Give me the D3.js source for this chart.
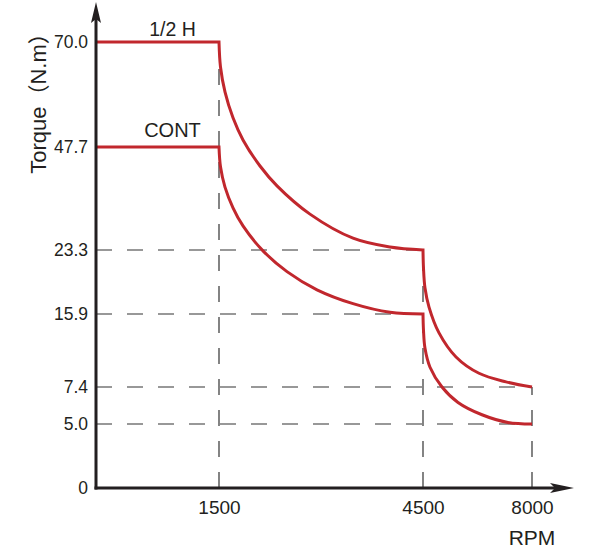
<!DOCTYPE html>
<html>
<head>
<meta charset="utf-8">
<script src="https://cdn.jsdelivr.net/npm/d3@7"></script>
<style>
  html, body { margin: 0; padding: 0; background: #ffffff; }
  svg { display: block; font-family: "Liberation Sans", Arial, "Noto Sans CJK SC", sans-serif; }
</style>
</head>
<body>
<svg id="chart" width="600" height="550"></svg>
<script>
// ---------- data ----------
const rpmTicks = [1500, 4500, 8000];
const rpmTickLabels = ["1500", "4500", "8000"];
const torqueTicks = [0, 5.0, 7.4, 15.9, 23.3, 47.7, 70.0];
const torqueTickLabels = ["0", "5.0", "7.4", "15.9", "23.3", "47.7", "70.0"];

const seriesNames = ["1/2 H", "CONT"];

// 1/2 H (intermittent) curve
const halfRpm    = [0,    1500, 1522, 1588, 1706, 1853, 2103, 2353, 2838, 3471, 4015, 4500, 4516, 4564, 4693, 5014, 5560, 6298, 7165, 8000];
const halfTorque = [70.0, 70.0, 64.7, 59.4, 53.9, 49.2, 43.2, 38.5, 31.8, 26.1, 24.0, 23.3, 21.2, 18.9, 16.7, 13.7, 10.9, 9.0,  8.0,  7.4];

// CONT (continuous) curve
const contRpm    = [0,    1500, 1522, 1588, 1706, 1853, 2147, 2500, 2941, 3471, 4015, 4500, 4516, 4564, 4725, 5110, 5624, 6394, 7229, 8000];
const contTorque = [47.7, 47.7, 43.0, 38.2, 33.3, 29.0, 23.2, 20.8, 18.7, 17.1, 16.1, 15.9, 14.0, 11.9, 9.7,  7.4,  6.4,  5.6,  5.1,  5.0];

// dashed guides
const guideTorque = [23.3, 15.9, 7.4, 5.0];
const guideTorqueRpm = [4500, 4500, 8000, 8000];
const guideRpm = [1500, 4500, 8000];
const guideRpmTorque = [70.0, 23.3, 7.4];

// ---------- layout (schematic, non-uniform axes as in the original) ----------
const xStops = [96, 219, 423, 532];                 // pixel stops for rpm [0,1500,4500,8000]
const yStops = [488, 424, 387, 314, 250, 147, 42];  // pixel stops for torqueTicks
const red = "#c1272d";
const ink = "#231f20";
const fontLatin = "Liberation Sans, Arial, sans-serif";

const x = d3.scaleLinear().domain([0].concat(rpmTicks)).range(xStops);
const y = d3.scaleLinear().domain(torqueTicks).range(yStops);

const svg = d3.select("#chart");

// dashed guides
const guides = svg.append("g")
  .attr("stroke", "#333")
  .attr("stroke-width", 1.2)
  .attr("stroke-dasharray", "16,15")
  .attr("fill", "none");

guideTorque.forEach((t, i) => {
  guides.append("line")
    .attr("x1", x(0)).attr("x2", x(guideTorqueRpm[i]))
    .attr("y1", y(t)).attr("y2", y(t));
});
guideRpm.forEach((r, i) => {
  guides.append("line")
    .attr("x1", x(r)).attr("x2", x(r))
    .attr("y1", y(0)).attr("y2", y(guideRpmTorque[i]));
});

// curves: flat part (linear) + smooth segments between break speeds, joined as one path
const linearLine = d3.line().x(d => x(d[0])).y(d => y(d[1]));
const smoothLine = d3.line().x(d => x(d[0])).y(d => y(d[1])).curve(d3.curveCatmullRom.alpha(0.5));

function seriesPath(rpm, torque) {
  const pts = rpm.map((r, i) => [r, torque[i]]);
  const breaks = [0].concat(rpmTicks.slice(0, 2).map(b => rpm.indexOf(b)), [pts.length - 1]);
  let d = "";
  for (let s = 0; s < breaks.length - 1; s++) {
    const seg = pts.slice(breaks[s], breaks[s + 1] + 1);
    const gen = s === 0 ? linearLine : smoothLine;
    let p = gen(seg);
    if (s > 0) p = "L" + p.slice(1);
    d += p;
  }
  return d;
}

[[halfRpm, halfTorque], [contRpm, contTorque]].forEach(([r, t]) => {
  svg.append("path")
    .attr("d", seriesPath(r, t))
    .attr("fill", "none")
    .attr("stroke", red)
    .attr("stroke-width", 3)
    .attr("stroke-linejoin", "miter");
});

// axes (lines + arrowheads)
const axisG = svg.append("g");
axisG.append("line")
  .attr("x1", x(0)).attr("x2", x(0))
  .attr("y1", y(0) + 1.5).attr("y2", 16)
  .attr("stroke", ink).attr("stroke-width", 3);
axisG.append("line")
  .attr("x1", x(0) - 1.5).attr("x2", 556)
  .attr("y1", y(0)).attr("y2", y(0))
  .attr("stroke", ink).attr("stroke-width", 3);
axisG.append("path")
  .attr("d", `M${x(0)},2 L${x(0) + 5},23 L${x(0)},19 L${x(0) - 5},23 Z`)
  .attr("fill", ink);
axisG.append("path")
  .attr("d", `M574,${y(0)} L550,${y(0) - 5} L555,${y(0)} L550,${y(0) + 5} Z`)
  .attr("fill", ink);

// tick labels via d3 axes
const yAxis = d3.axisLeft(y)
  .tickValues(torqueTicks)
  .tickFormat((d, i) => torqueTickLabels[i])
  .tickSize(0)
  .tickPadding(8);
const yAx = svg.append("g").attr("transform", `translate(${x(0)},0)`).call(yAxis);
yAx.attr("font-size", null).attr("font-family", null);
yAx.select(".domain").remove();
yAx.selectAll("text")
  .attr("font-size", 17.5)
  .attr("font-family", fontLatin)
  .attr("fill", ink);

const xAxis = d3.axisBottom(x)
  .tickValues(rpmTicks)
  .tickFormat((d, i) => rpmTickLabels[i])
  .tickSize(0)
  .tickPadding(13);
const xAx = svg.append("g").attr("transform", `translate(0,${y(0)})`).call(xAxis);
xAx.attr("font-size", null).attr("font-family", null);
xAx.select(".domain").remove();
xAx.selectAll("text")
  .attr("font-size", 19)
  .attr("font-family", fontLatin)
  .attr("fill", ink);

// axis titles
svg.append("text")
  .attr("x", x(8000)).attr("y", 545)
  .attr("text-anchor", "middle")
  .attr("font-size", 21)
  .attr("fill", ink)
  .text("RPM");

svg.append("text")
  .attr("transform", "translate(46,98) rotate(-90)")
  .attr("text-anchor", "middle")
  .attr("font-size", 22)
  .attr("fill", ink)
  .text("Torque（N.m）");

// series labels
svg.append("text")
  .attr("x", (x(0) + x(1500)) / 2 + 15).attr("y", 36)
  .attr("text-anchor", "middle")
  .attr("font-size", 19.5)
  .attr("fill", ink)
  .text(seriesNames[0]);
svg.append("text")
  .attr("x", (x(0) + x(1500)) / 2 + 15).attr("y", 137)
  .attr("text-anchor", "middle")
  .attr("font-size", 20)
  .attr("fill", ink)
  .text(seriesNames[1]);
</script>
</body>
</html>
